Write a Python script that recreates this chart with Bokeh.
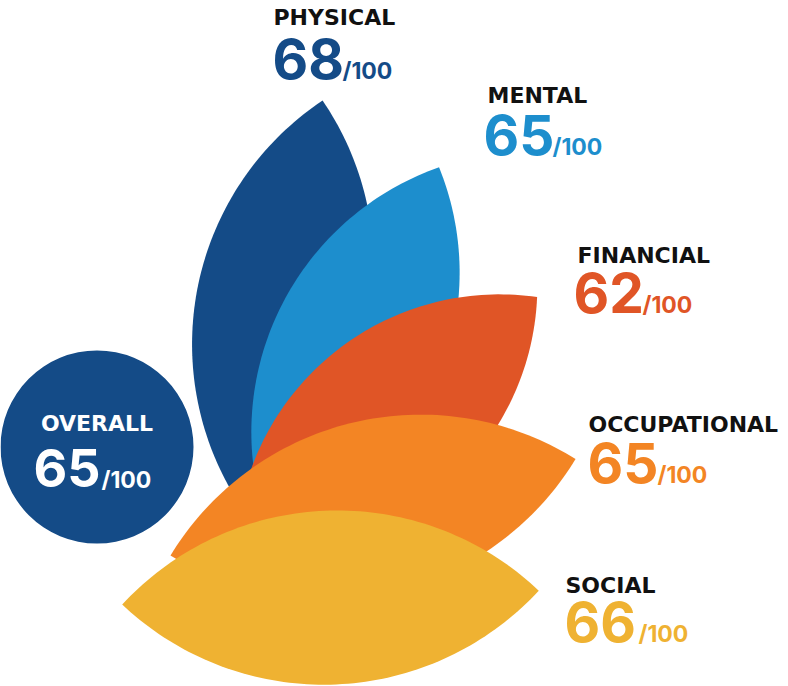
import numpy as np
from bokeh.plotting import figure
from bokeh.models import Range1d, ColumnDataSource
from bokeh.core.properties import value
from bokeh.embed import file_html
from bokeh.resources import INLINE

# ---- data ----
categories = ["PHYSICAL", "MENTAL", "FINANCIAL", "OCCUPATIONAL", "SOCIAL"]
scores = [68, 65, 62, 65, 66]
overall_label = "OVERALL"
overall_score = 65
out_of = "/100"

# ---- style ----
colors = ["#144B87", "#1D8ECD", "#E05526", "#F38524", "#EFB232"]
overall_color = "#144B87"
BASE_FIX = 0.37  # baseline correction, in em

# ---- layout (petal base point, angle above horizontal, length) ----
petal_bx = [242.6, 271.4, 235.3, 170.0, 121.7]
petal_by = [509.0, 537.0, 546.7, 555.0, 604.0]
petal_ang = [79.0, 65.7, 39.7, 13.4, 1.9]
petal_len = [416.6, 406.2, 391.6, 416.4, 416.8]
petal_sag = 87.0

label_x = [273, 487, 577, 588, 565]
label_y = [25, 103.3, 263.3, 431.7, 592.7]
num_x = [272, 483, 573, 587, 564]
num_y = [79.3, 155, 312.7, 483.3, 641.7]
frac_x = [342, 552, 642, 657, 638]

LAB_FS, NUM_FS, FRAC_FS = 22, 55, 23
OV_LAB_FS, OV_NUM_FS = 22, 52

W, H = 788, 686
p = figure(width=W, height=H, x_range=Range1d(0, W), y_range=Range1d(H, 0),
           x_axis_type=None, y_axis_type=None, toolbar_location=None,
           output_backend="svg", min_border=0)
p.outline_line_color = None
p.background_fill_color = "white"
p.border_fill_color = "white"


def lens(bx, by, ang_deg, L, s, n=80):
    a = np.radians(ang_deg)
    ax, ay = np.cos(a), -np.sin(a)
    nx, ny = np.sin(a), np.cos(a)
    h = L / 2.0
    R = (h * h + s * s) / (2 * s)
    d = R - s
    phi = np.arcsin(h / R)
    th = np.linspace(-phi, phi, n)
    u = R * np.sin(th) + h
    v = R * np.cos(th) - d
    uu = np.concatenate([u, u[::-1]])
    vv = np.concatenate([v, -v[::-1]])
    return list(bx + uu * ax + vv * nx), list(by + uu * ay + vv * ny)


xs, ys = [], []
for i in range(len(categories)):
    X, Y = lens(petal_bx[i], petal_by[i], petal_ang[i], petal_len[i], petal_sag)
    xs.append(X)
    ys.append(Y)

p.patches(xs="xs", ys="ys", fill_color="color", line_color=None,
          source=ColumnDataSource(dict(xs=xs, ys=ys, color=colors)))

# overall circle
p.circle(x=[96.5], y=[446.5], radius=96.5, fill_color=overall_color, line_color=None)

lab_font = value("DejaVu Sans")
num_font = value("Inter")


def by(ys_, fs):
    return [y - BASE_FIX * fs for y in ys_]


p.text(x=label_x, y=by(label_y, LAB_FS), text=categories, text_font=lab_font, text_font_style="bold",
       text_font_size=f"{LAB_FS}px", text_color="#111111", text_baseline="alphabetic", text_align="left")
p.text(x=num_x, y=by(num_y, NUM_FS), text=[str(s) for s in scores], text_font=num_font,
       text_font_style="bold", text_font_size=f"{NUM_FS}px", text_color=colors,
       text_baseline="alphabetic", text_align="left")
p.text(x=frac_x, y=by(num_y, FRAC_FS), text=[out_of] * len(scores), text_font=num_font,
       text_font_style="bold", text_font_size=f"{FRAC_FS}px", text_color=colors,
       text_baseline="alphabetic", text_align="left")

# overall texts
p.text(x=[96.5], y=by([430.7], OV_LAB_FS), text=[overall_label], text_font=lab_font,
       text_font_style="bold", text_font_size=f"{OV_LAB_FS}px", text_color="white",
       text_baseline="alphabetic", text_align="center")
p.text(x=[33], y=by([487], OV_NUM_FS), text=[str(overall_score)], text_font=num_font,
       text_font_style="bold", text_font_size=f"{OV_NUM_FS}px", text_color="white",
       text_baseline="alphabetic", text_align="left")
p.text(x=[101], y=by([488], FRAC_FS), text=[out_of], text_font=num_font, text_font_style="bold",
       text_font_size=f"{FRAC_FS}px", text_color="white", text_baseline="alphabetic", text_align="left")

open("out.html", "w").write(file_html(p, INLINE))
